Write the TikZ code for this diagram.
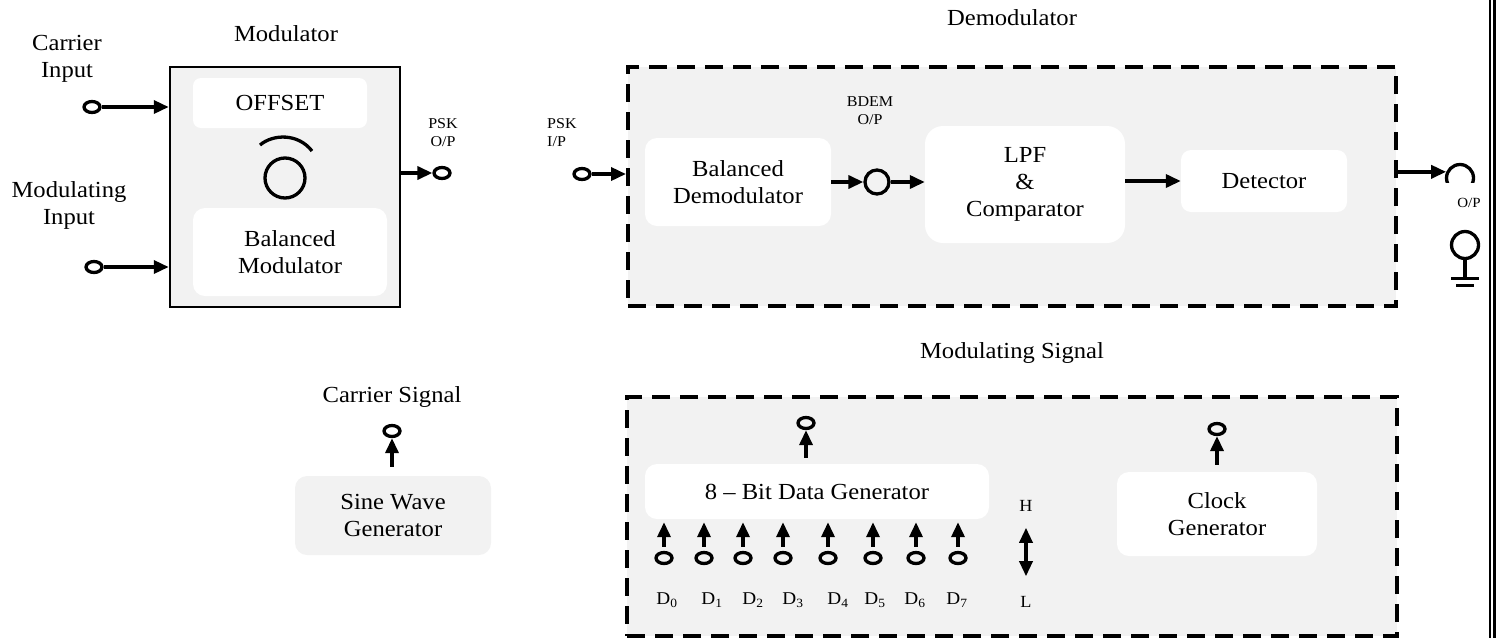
\documentclass[tikz,border=0pt]{standalone}
\usepackage{fontspec}
\setmainfont{Liberation Serif}[FakeStretch=1.07]
\usetikzlibrary{arrows.meta,shapes.geometric,calc}
\definecolor{panel}{HTML}{F2F2F2}
\begin{document}
\begin{tikzpicture}[x=1pt,y=-1pt,
  lbl/.style={font=\fontsize{23}{27}\selectfont, align=center, inner sep=0pt},
  tiny/.style={font=\fontsize{15}{18}\selectfont, align=center, inner sep=0pt},
  wblock/.style={fill=white, rounded corners=#1, inner sep=0pt, font=\fontsize{23}{27}\selectfont, align=center},
  wblock/.default=10pt,
  panelbox/.style={fill=panel, draw=black, line width=4pt, dash pattern=on 18pt off 10pt, inner sep=0pt},
  term/.style={ellipse, draw, line width=3.3pt, minimum width=16pt, minimum height=11pt, inner sep=0pt},
  ring/.style={circle, draw, line width=3.3pt, inner sep=0pt},
  sig/.style={line width=3.5pt, -{Triangle[length=15pt,width=13pt]}},
  dsig/.style={line width=3.3pt, {Triangle[length=15pt,width=13pt]}-{Triangle[length=15pt,width=13pt]}},
]
\useasboundingbox (0,0) rectangle (1504,638);

% ---------------- Modulator ----------------
\node[lbl] (modtitle) at (286,34) {Modulator};
\node[draw, fill=panel, line width=2.5pt, minimum width=230pt, minimum height=240pt, inner sep=0pt] (mod) at (285,187) {};
\node[wblock=8pt, minimum width=174pt, minimum height=50pt] (offset) at (280,103) {OFFSET};
\node[wblock=12pt, minimum width=194pt, minimum height=88pt] (balmod) at (290,252) {Balanced\\Modulator};
\node[ring, minimum size=40pt] (knob) at (285,178) {};
\draw[line width=3.3pt] (260,145) .. controls (273,134) and (298,133) .. (312,151);

\node[lbl] (cinlbl) at (67,59) {Carrier\\Input};
\node[lbl] (minlbl) at (69,205) {Modulating\\Input};
\node[term] (cin) at (92,107) {};
\node[term] (min) at (94,267) {};
\draw[sig] (cin.east) -- (cin.east -| mod.west);
\draw[sig] (min.east) -- (min.east -| mod.west);

\node[tiny] (psko) at (443,133) {PSK\\O/P};
\node[term] (pskout) at (442,173) {};
\draw[sig] (pskout.west -| mod.east) -- (pskout.west);

% ---------------- Demodulator ----------------
\node[lbl] (demtitle) at (1012,18) {Demodulator};
\node[panelbox, minimum width=768pt, minimum height=239pt] (demod) at (1012,186.5) {};

\node[tiny, align=left, anchor=west] (pski) at (547,133) {PSK\\I/P};
\node[term] (pskin) at (582,174) {};
\draw[sig] (pskin.east) -- (pskin.east -| demod.west);

\node[wblock=12pt, minimum width=186pt, minimum height=88pt] (bdemod) at (738,182) {Balanced\\Demodulator};
\node[tiny] (bdemlbl) at (870,111) {BDEM\\O/P};
\node[ring, minimum size=24pt] (bdemt) at (877,182) {};
\node[wblock=18pt, minimum width=200pt, minimum height=117pt] (lpf) at (1025,184.5) {LPF\\\&\\Comparator};
\node[wblock=10pt, minimum width=166pt, minimum height=62pt] (det) at (1264,181) {Detector};

\draw[sig] (bdemod.east) -- (bdemt.west);
\draw[sig] (bdemt.east) -- (bdemt.east -| lpf.west);
\draw[sig] (det.west -| lpf.east) -- (det.west);

% output terminal (lower part hidden)
\begin{scope}
  \clip (1430,150) rectangle (1485,182);
  \node[ring, minimum size=27pt] (outt) at (1460,178) {};
\end{scope}
\draw[sig] (outt.156 -| demod.east) -- (outt.156);
\node[font=\fontsize{14}{16}\selectfont, inner sep=0pt] (oplbl) at (1469,203) {O/P};

% ground terminal
\node[ring, minimum size=27pt] (gnd) at (1465,245) {};
\draw[line width=3.3pt] (gnd.south) -- ++(0,18) coordinate (gb);
\draw[line width=3.3pt] ($(gb)+(-14,0)$) -- ($(gb)+(14,0)$);
\draw[line width=3.3pt] ($(gb)+(-9,7)$) -- ($(gb)+(9,7)$);

% ---------------- Carrier signal ----------------
\node[lbl] (ctitle) at (392,397) {Carrier Signal};
\node[wblock=12pt, fill=panel, minimum width=196pt, minimum height=79pt] (sine) at (393,515.5) {Sine Wave\\Generator};
\node[term] (sout) at (392,431) {};
\draw[sig, shorten <=9pt] (sout |- sine.north) -- (sout.south);

% ---------------- Modulating signal ----------------
\node[lbl] (msigtitle) at (1012,353) {Modulating Signal};
\node[panelbox, minimum width=770pt, minimum height=239pt] (msig) at (1012,516.5) {};

\node[wblock=12pt, minimum width=344pt, minimum height=55pt] (dgen) at (817,491.5) {8 -- Bit Data Generator};
\node[term] (dout) at (806,423) {};
\draw[sig, shorten <=6pt] (dout |- dgen.north) -- (dout.south);

\foreach \i/\x/\lx in {0/664/667,1/704/712,2/743/753,3/783/793,4/828/838,5/873/875,6/916/915,7/958/957}{
  \node[term] (d\i) at (\x,558) {};
  \draw[sig, shorten <=4pt, shorten >=3pt] (d\i.north) -- (d\i.north |- dgen.south);
  \node[font=\fontsize{18}{20}\selectfont, inner sep=0pt] (dl\i) at (\lx,600) {D\textsubscript{\i}};
}

\node[font=\fontsize{17}{20}\selectfont, inner sep=0pt] (hlbl) at (1026,506) {H};
\node[font=\fontsize{17}{20}\selectfont, inner sep=0pt] (llbl) at (1026,602) {L};
\draw[dsig, shorten <=16pt, shorten >=20pt] (hlbl.south) -- (llbl.north);

\node[wblock=12pt, minimum width=200pt, minimum height=84pt] (clk) at (1217,514) {Clock\\Generator};
\node[term] (cout) at (1217,429) {};
\draw[sig, shorten <=7pt] (clk.north) -- (cout.south);

% ---------------- page edge ----------------
\draw[line width=2.2pt] (1490,0) -- (1490,638);
\draw[line width=2.2pt] (1494.5,0) -- (1494.5,638);
\end{tikzpicture}
\end{document}
